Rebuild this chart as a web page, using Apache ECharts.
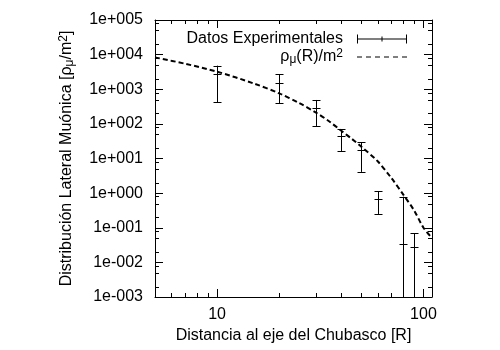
<!DOCTYPE html>
<html>
<head>
<meta charset="utf-8">
<script src="https://cdn.jsdelivr.net/npm/echarts@6/dist/echarts.min.js"></script>
<style>
  html, body { margin: 0; padding: 0; background: #fff; }
  #chart { width: 500px; height: 350px; }
</style>
</head>
<body>
<div id="chart"></div>
<script>
// datos experimentales (R, densidad y limites de la barra de error)
const radius = [10, 20, 30, 40, 50, 60, 80, 90];
const density = [2750, 1550, 280, 45, 17.6, 0.66, 0.034, 0.027];
const densityLow = [420, 390, 87, 16.5, 4.1, 0.25, 0, 0]; // 0 = por debajo de cero
const densityHigh = [4800, 2750, 490, 70, 29.4, 1.15, 0.79, 0.069];

// curva rho_mu(R)
const fitR = [5, 7, 10, 15, 20, 25, 30, 35, 40, 45, 50, 60, 70, 80, 90, 100, 110];
const fitRho = [8300, 5460, 3210, 1480, 760, 398, 216, 117, 63, 36.7, 21.9, 8.3, 2.7, 0.89, 0.32, 0.10, 0.05];

// marcas menores
const xMinor = [6, 7, 8, 9, 20, 30, 40, 50, 60, 70, 80, 90];
const yMinorSteps = [2, 5, 8];
const yDecades = [-3, -2, -1, 0, 1, 2, 3, 4];

const X_MIN = 5, X_MAX = 110, Y_MIN = 1e-3, Y_MAX = 1e5;
const FONT = "'Liberation Sans', Arial, sans-serif";

const chart = echarts.init(document.getElementById('chart'));

function isDecade(v) {
  const l = Math.log10(v);
  return Math.abs(l - Math.round(l)) < 1e-6;
}

const errData = radius.map((r, i) => [r, density[i], densityLow[i], densityHigh[i]]);
const fitData = fitR.map((r, i) => [r, fitRho[i]]);

const minorData = [];
xMinor.forEach(v => minorData.push([v, 1, 0]));
yDecades.forEach(d => yMinorSteps.forEach(s => minorData.push([X_MIN, s * Math.pow(10, d), 1])));

const errIcon = 'path://M0,0h1v9h-1z M0,4h50v1h-50z M49,0h1v9h-1z M24.5,2h1v5h-1z';
const dashIcon = 'path://M0,0h5v1h-5z M9,0h5v1h-5z M18,0h5v1h-5z M27,0h5v1h-5z M36,0h5v1h-5z M45,0h5v1h-5z';

const tickCommon = { inside: true, length: 8, lineStyle: { color: '#000', width: 1 } };
const lineCommon = { show: true, onZero: false, lineStyle: { color: '#000', width: 1 } };
const richText = {
  s: { fontFamily: FONT, fontSize: 12, verticalAlign: 'bottom', padding: [6, 0, 0, 0] },
  p: { fontFamily: FONT, fontSize: 12, verticalAlign: 'top', padding: [0, 0, 6, 0] }
};

chart.setOption({
  backgroundColor: '#fff',
  animation: false,
  textStyle: { fontFamily: FONT, color: '#000' },
  grid: { left: 155, right: 68, top: 20, bottom: 53, containLabel: false, outerBoundsMode: 'none' },
  legend: [{
    data: [{ name: 'Datos Experimentales', icon: errIcon }],
    right: 88, top: 26,
    align: 'right',
    itemWidth: 50, itemHeight: 9,
    selectedMode: false,
    textStyle: { fontFamily: FONT, fontSize: 16, color: '#000', padding: [0, 9, 0, 0] },
    itemStyle: { color: '#000' }
  }, {
    data: [{ name: 'rho', icon: dashIcon }],
    right: 88, top: 43,
    align: 'right',
    itemWidth: 50, itemHeight: 1,
    selectedMode: false,
    formatter: () => 'ρ{s|μ}(R)/m{p|2}',
    itemStyle: { color: '#000' },
    textStyle: { fontFamily: FONT, fontSize: 16, color: '#000', padding: [0, 9, 0, 0], rich: richText }
  }],
  xAxis: [{
    type: 'log', min: X_MIN, max: X_MAX, position: 'bottom',
    axisLine: lineCommon,
    axisTick: tickCommon,
    splitLine: { show: false },
    axisLabel: {
      margin: 10, fontSize: 16, color: '#000', fontFamily: FONT,
      formatter: v => (isDecade(v) ? String(Math.round(v)) : '')
    },
    name: 'Distancia al eje del Chubasco [R]',
    nameLocation: 'middle', nameGap: 31,
    nameTextStyle: { fontSize: 16, color: '#000', fontFamily: FONT }
  }, {
    type: 'log', min: X_MIN, max: X_MAX, position: 'top',
    axisLine: lineCommon, axisTick: tickCommon,
    axisLabel: { show: false }, splitLine: { show: false }
  }],
  yAxis: [{
    type: 'log', min: Y_MIN, max: Y_MAX, position: 'left',
    axisLine: lineCommon, axisTick: tickCommon,
    splitLine: { show: false },
    axisLabel: {
      margin: 12, fontSize: 16, color: '#000', fontFamily: FONT,
      formatter: v => {
        if (!isDecade(v)) return '';
        const e = Math.round(Math.log10(v));
        return '1e' + (e < 0 ? '-' : '+') + String(Math.abs(e)).padStart(3, '0');
      }
    },
    name: 'Distribución Lateral Muónica [ρ{s|μ}/m{p|2}]',
    nameLocation: 'middle', nameGap: 79,
    nameTextStyle: { fontSize: 16, color: '#000', fontFamily: FONT, rich: richText }
  }, {
    type: 'log', min: Y_MIN, max: Y_MAX, position: 'right',
    axisLine: lineCommon, axisTick: tickCommon,
    axisLabel: { show: false }, splitLine: { show: false }
  }],
  series: [{
    name: 'minor',
    type: 'custom',
    silent: true,
    data: minorData,
    renderItem: (params, api) => {
      const cs = params.coordSys;
      const kind = api.value(2);
      const style = { stroke: '#000', lineWidth: 1 };
      if (kind === 0) {
        const x = Math.round(api.coord([api.value(0), Y_MIN])[0]) + 0.5;
        const b = cs.y + cs.height, t = cs.y;
        return { type: 'group', children: [
          { type: 'line', shape: { x1: x, y1: b, x2: x, y2: b - 4 }, style },
          { type: 'line', shape: { x1: x, y1: t, x2: x, y2: t + 4 }, style }
        ] };
      }
      const y = Math.round(api.coord([X_MIN, api.value(1)])[1]) + 0.5;
      const l = cs.x, r = cs.x + cs.width;
      return { type: 'group', children: [
        { type: 'line', shape: { x1: l, y1: y, x2: l + 4, y2: y }, style },
        { type: 'line', shape: { x1: r, y1: y, x2: r - 4, y2: y }, style }
      ] };
    }
  }, {
    name: 'Datos Experimentales',
    type: 'custom',
    clip: true,
    itemStyle: { color: '#000' },
    data: errData,
    renderItem: (params, api) => {
      const cs = params.coordSys;
      const r = api.value(0);
      const c = api.coord([r, api.value(1)]);
      const hi = api.coord([r, api.value(3)]);
      const loV = api.value(2);
      const loY = loV > 0 ? api.coord([r, loV])[1] : cs.y + cs.height;
      const x = Math.round(c[0]) + 0.5;
      const style = { stroke: '#000', lineWidth: 1 };
      const cap = y => ({ type: 'line', shape: { x1: x - 4, y1: y, x2: x + 4, y2: y }, style });
      const children = [
        { type: 'line', shape: { x1: x, y1: hi[1], x2: x, y2: loY }, style },
        cap(Math.round(hi[1]) + 0.5),
        cap(Math.round(c[1]) + 0.5)
      ];
      if (loV > 0) children.push(cap(Math.round(loY) + 0.5));
      return { type: 'group', children };
    }
  }, {
    name: 'rho',
    type: 'line',
    data: fitData,
    smooth: 0.3,
    symbol: 'none',
    clip: true,
    lineStyle: { color: '#000', width: 2, type: [5, 3] },
    itemStyle: { color: '#000' }
  }]
});
</script>
</body>
</html>
